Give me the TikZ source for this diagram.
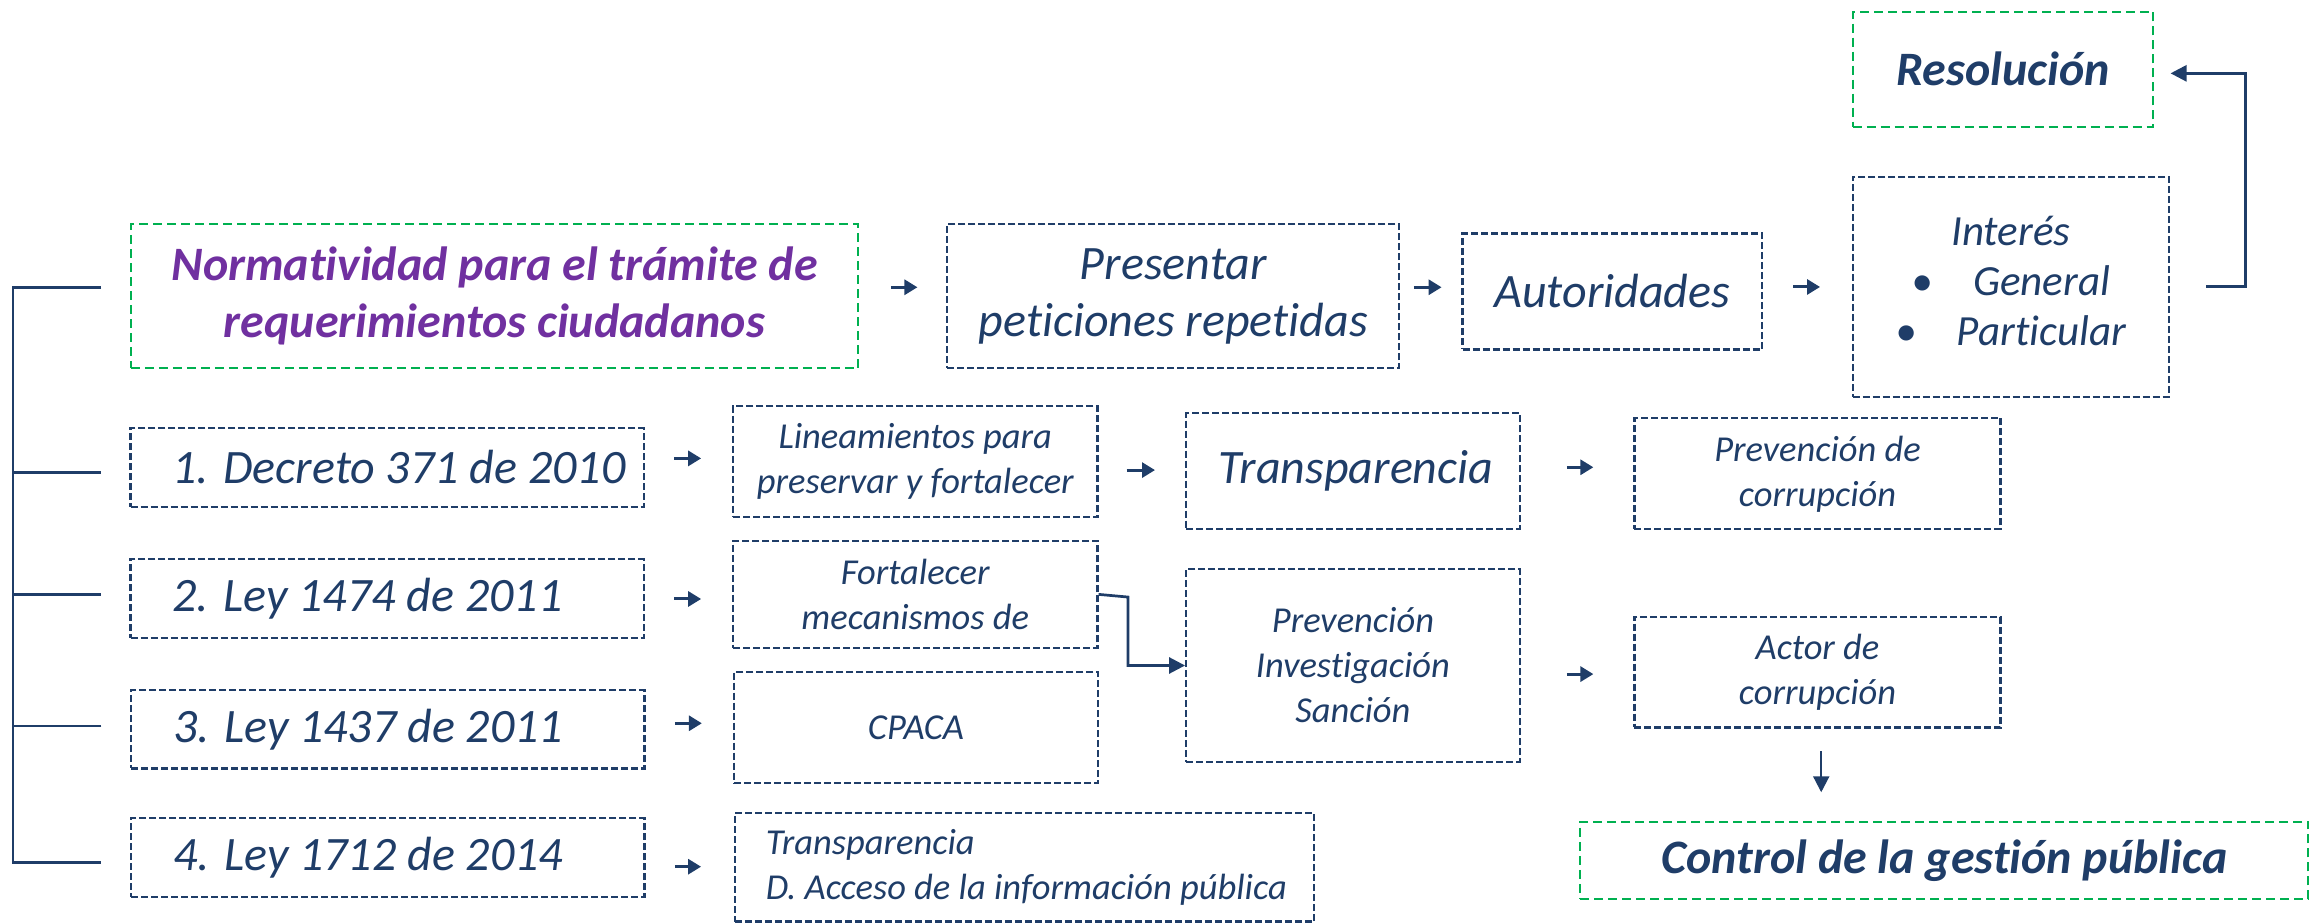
\documentclass[tikz,border=0pt]{standalone}
\usepackage{fontspec}
\setmainfont{Carlito}[Ligatures=NoCommon]
\usetikzlibrary{arrows.meta,calc}
\definecolor{nb}{RGB}{31,61,104}
\definecolor{ng}{RGB}{0,176,80}
\definecolor{np}{RGB}{112,48,160}
\def\U{*1.4815pt}
\tikzset{
 bx/.style={draw=nb, line width=2.2pt, dash pattern=on 7pt off 3pt, inner sep=0pt, text=nb, align=center},
 gbx/.style={draw=ng, line width=2.2pt, dash pattern=on 9pt off 5pt, inner sep=0pt, text=nb, align=center},
 sz/.style 2 args={minimum width={#1\U}, minimum height={#2\U}},
 big/.style={font=\fontsize{48}{57}\selectfont\itshape},
 bigb/.style={font=\fontsize{48}{57}\selectfont\bfseries\itshape},
 small/.style={font=\fontsize{36.5}{45}\selectfont\itshape},
 sarr/.style={draw=nb, line width=3pt, -{Triangle[length=13pt,width=15pt]}},
 earr/.style={draw=nb, line width=2.7pt, -{Triangle[length=16pt,width=16pt]}},
 bline/.style={draw=nb, line width=2.7pt},
}
\begin{document}
\begin{tikzpicture}[x=1.4815pt,y=-1.4815pt]
\useasboundingbox (0,0) rectangle (1568,623);
% top row
\node[gbx, bigb, sz={202.9}{77.6}] (res) at (1352,46.7) {Resolución};
\node[bx, font=\fontsize{43}{50}\selectfont\itshape, sz={213.5}{148.5}] (int) at (1357.3,193.5)
  {Interés\\\textbullet\hspace{40pt}General\\\textbullet\hspace{40pt}Particular\rule[-12pt]{0pt}{12pt}};
\node[gbx, bigb, text=np, sz={490.9}{97.4}] (norm) at (333.8,199.9) {Normatividad para el trámite de\\requerimientos ciudadanos};
\node[bx, big, sz={305}{97.4}] (pres) at (791.9,199.9) {Presentar\\peticiones repetidas};
\node[bx, big, sz={202.2}{78.3}] (aut) at (1088.3,196.7) {Autoridades};
% laws
\node[bx, big, sz={346.4}{53}, text width=513.2pt, align=flush left] (dec) at (261.3,315.5) {\hspace*{42pt}1. Decreto 371 de 2010};
\node[bx, big, sz={346.4}{53}, text width=513.2pt, align=flush left] (l1474) at (261.3,404) {\hspace*{42pt}2. Ley 1474 de 2011};
\node[bx, big, sz={346.4}{53}, text width=513.2pt, align=flush left] (l1437) at (261.8,492.2) {\hspace*{42pt}3. Ley 1437 de 2011};
\node[bx, big, sz={346.4}{53}, text width=513.2pt, align=flush left] (l1712) at (261.8,578.8) {\hspace*{42pt}4. Ley 1712 de 2014};
% second column
\node[bx, small, sz={246}{75.2}] (lin) at (617.8,311.6) {Lineamientos para\\preservar y fortalecer};
\node[bx, small, sz={246}{72.4}] (fort) at (617.8,401.2) {Fortalecer\\mecanismos de};
\node[bx, small, sz={246}{74.7}] (cpaca) at (618.3,491) {CPACA};
\node[bx, small, sz={391.1}{73.1}, text width=579.4pt, align=flush left] (t2) at (691.5,585.5)
  {\hspace*{31pt}Transparencia\\\hspace*{31pt}D. Acceso de la información pública};
% third column
\node[bx, big, sz={225.1}{78.1}] (transp) at (913.2,318) {\hspace*{6pt}Transparencia};
\node[bx, small, sz={225.1}{129.8}] (pis) at (913.2,449.2) {Prevención\\Investigación\\Sanción};
% fourth column
\node[bx, small, sz={247.1}{74.9}] (pc) at (1226.8,319.8) {Prevención de\\corrupción};
\node[bx, small, sz={247.1}{74.8}] (actor) at (1226.8,453.6) {Actor de\\corrupción};
\node[gbx, bigb, sz={491.4}{52.4}] (ctrl) at (1312.4,580.8) {Control de la gestión pública};
% arrow anchor points
\coordinate (a1) at ($(norm.east)+(0,-6)$);
\coordinate (a2) at ($(pres.east)+(0,-6)$);
\coordinate (a3) at ($(aut.east)+(0,-3)$);
\coordinate (a4) at ($(dec.east)+(0,-6.1)$);
\coordinate (a5) at ($(lin.east)+(0,5.7)$);
\coordinate (a6) at ($(transp.east)+(0,-2.6)$);
\coordinate (a7) at ($(l1474.east)+(0,0.3)$);
\coordinate (a8) at ($(pis.east)+(0,5.8)$);
\coordinate (a9) at ($(l1437.east)+(0,-4)$);
\coordinate (a10) at ($(l1712.east)+(0,6.2)$);
\coordinate (a11) at ($(actor.south)+(2.5,0)$);
% short arrows
\draw[sarr, shorten <={21.3\U}, shorten >={19.4\U}] (a1) -- (a1 -| pres.west);
\draw[sarr, shorten <={9.2\U}, shorten >={13.4\U}] (a2) -- (a2 -| aut.west);
\draw[sarr, shorten <={20.2\U}, shorten >={21.3\U}] (a3) -- (a3 -| int.west);
\draw[sarr, shorten <={19.8\U}, shorten >={20.8\U}] (a4) -- (a4 -| lin.west);
\draw[sarr, shorten <={18.9\U}, shorten >={20.3\U}] (a5) -- (a5 -| transp.west);
\draw[sarr, shorten <={31.1\U}, shorten >={27\U}] (a6) -- (a6 -| pc.west);
\draw[sarr, shorten <={19.8\U}, shorten >={20.8\U}] (a7) -- (a7 -| fort.west);
\draw[sarr, shorten <={31.1\U}, shorten >={27\U}] (a8) -- (a8 -| actor.west);
\draw[sarr, shorten <={19.8\U}, shorten >={20.8\U}] (a9) -- (a9 -| cpaca.west);
\draw[sarr, shorten <={19.8\U}, shorten >={22\U}] (a10) -- (a10 -| t2.west);
% elbow and long arrows
\draw[earr, shorten >={10.9\U}] ($(int.east)+(24.4,0)$) -- ($(int.east)+(50.7,0)$) |- ($(res.east)+(0,2.8)$);
\draw[earr] (fort.east) -- ++(19.8,1.8) |- (pis.west);
\draw[earr, line width=2.2pt, shorten <={15.2\U}, shorten >={19.1\U}] (a11) -- (a11 |- ctrl.north);
% bracket
\draw[bline] ($(norm.west)+(-19.4,-6)$) -- ++(-59.5,0) |- ($(l1712.west)+(-19.4,3.5)$);
\draw[bline] ($(dec.west)+(-19.4,3.5)$) -- ++(-59.5,0);
\draw[bline] ($(l1474.west)+(-19.4,-2.8)$) -- ++(-59.5,0);
\draw[bline] ($(l1437.west)+(-19.4,-2.2)$) -- ++(-59.5,0);
\end{tikzpicture}
\end{document}
